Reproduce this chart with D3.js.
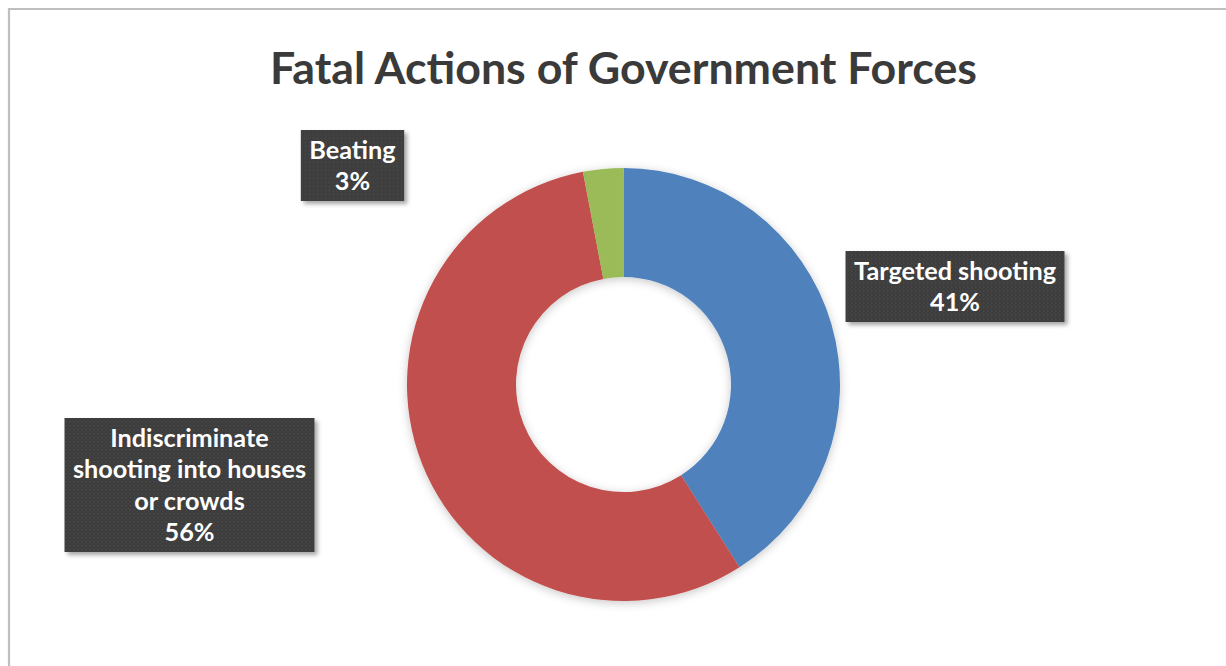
<!DOCTYPE html>
<html>
<head>
<meta charset="utf-8">
<script src="https://cdn.jsdelivr.net/npm/d3@7"></script>
<style>
  html, body { margin: 0; padding: 0; background: #fff; }
  svg { display: block; }
</style>
</head>
<body>
<svg id="chart" width="1226" height="666"></svg>
<script>
// Fatal actions of government forces, share of deaths by action type (%)
const categories = ["Targeted shooting", "Indiscriminate shooting into houses or crowds", "Beating"];
const values = [41, 56, 3];
const labelLines = [
  ["Targeted shooting", "41%"],
  ["Indiscriminate", "shooting into houses", "or crowds", "56%"],
  ["Beating", "3%"]
];
const colors = ["#4F81BD", "#C0504D", "#9BBB59"];
const titleText = "Fatal Actions of Government Forces";

// Layout
const W = 1226, H = 666;
const cx = 623.5, cy = 384.5;
const outerR = 216.5, innerR = 107.5;
const labelCenters = [[955, 286.5], [189.5, 485], [352.5, 165.5]];
const fontFamily = "Lato, 'Open Sans', 'DejaVu Sans', sans-serif";

const svg = d3.select("#chart");
const defs = svg.append("defs");

// Soft shadow around the ring
const ringShadow = defs.append("filter").attr("id", "ringShadow")
  .attr("x", "-20%").attr("y", "-20%").attr("width", "140%").attr("height", "140%");
ringShadow.append("feDropShadow").attr("dx", 0).attr("dy", 2).attr("stdDeviation", 5)
  .attr("flood-color", "#000").attr("flood-opacity", 0.22);

// Drop shadow for the label boxes
const boxShadow = defs.append("filter").attr("id", "boxShadow")
  .attr("x", "-20%").attr("y", "-20%").attr("width", "140%").attr("height", "140%");
boxShadow.append("feDropShadow").attr("dx", 3).attr("dy", 3).attr("stdDeviation", 2)
  .attr("flood-color", "#000").attr("flood-opacity", 0.35);

// Dotted dark texture for the label boxes
const pat = defs.append("pattern").attr("id", "dots")
  .attr("width", 4).attr("height", 4).attr("patternUnits", "userSpaceOnUse");
pat.append("rect").attr("width", 4).attr("height", 4).attr("fill", "#3b3b3b");
pat.append("rect").attr("x", 0).attr("y", 0).attr("width", 1.5).attr("height", 1.5).attr("fill", "#4d4d4d");
pat.append("rect").attr("x", 2).attr("y", 2).attr("width", 1.5).attr("height", 1.5).attr("fill", "#444");

// Chart area frame
svg.append("path")
  .attr("d", `M9,${H} L9,9 L${W},9`)
  .attr("fill", "none").attr("stroke", "#bfbfbf").attr("stroke-width", 2.2);

// Title: slightly condensed to its set width
svg.append("text")
  .attr("x", cx).attr("y", 84)
  .attr("text-anchor", "middle")
  .attr("font-family", fontFamily).attr("font-weight", 700)
  .attr("font-size", 43).attr("fill", "#3a3a3a")
  .attr("textLength", 707).attr("lengthAdjust", "spacingAndGlyphs")
  .text(titleText);

// Donut
const pie = d3.pie().sort(null).value(d => d);
const arcs = pie(values);
const arc = d3.arc().innerRadius(innerR).outerRadius(outerR);

const ring = svg.append("g")
  .attr("transform", `translate(${cx},${cy})`)
  .attr("filter", "url(#ringShadow)");
ring.selectAll("path")
  .data(arcs)
  .join("path")
  .attr("d", arc)
  .attr("fill", (d, i) => colors[i]);

// Data labels
const labelSize = (() => {
  const probe = svg.append("text")
    .attr("font-family", fontFamily).attr("font-weight", 700).attr("font-size", 20)
    .text(labelLines[0][0]);
  const w = probe.node().getComputedTextLength();
  probe.remove();
  return 20 * 202 / w;
})();
const lineH = 31.5;

const labels = svg.append("g").selectAll("g")
  .data(arcs)
  .join("g")
  .attr("transform", (d, i) => `translate(${labelCenters[i][0]},${labelCenters[i][1]})`);

labels.each(function (d, i) {
  const g = d3.select(this);
  const lines = labelLines[i];
  const box = g.append("rect").attr("fill", "url(#dots)").attr("filter", "url(#boxShadow)");
  const txt = g.append("text")
    .attr("text-anchor", "middle")
    .attr("font-family", fontFamily).attr("font-weight", 700)
    .attr("font-size", labelSize).attr("fill", "#ffffff");
  const n = lines.length;
  lines.forEach((ln, k) => {
    txt.append("tspan")
      .attr("x", 0)
      .attr("y", (k - (n - 1) / 2) * lineH + labelSize * 0.35)
      .text(ln);
  });
  let maxW = 0;
  txt.selectAll("tspan").each(function () {
    maxW = Math.max(maxW, this.getComputedTextLength());
  });
  const bw = maxW + 17, bh = n * lineH + 8;
  box.attr("x", -bw / 2).attr("y", -bh / 2).attr("width", bw).attr("height", bh);
});
</script>
</body>
</html>
